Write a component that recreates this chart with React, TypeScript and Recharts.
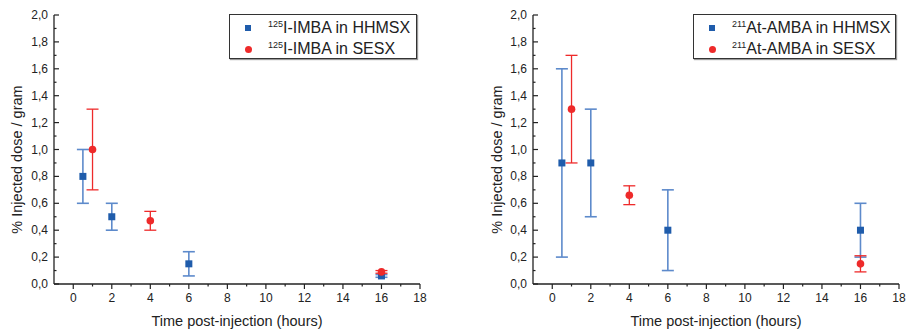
import {
  ScatterChart,
  Scatter,
  XAxis,
  YAxis,
  ErrorBar,
  Legend,
} from "recharts";

// values
const xTicks = [0, 1, 2, 3, 4, 5, 6, 7, 8, 9, 10, 11, 12, 13, 14, 15, 16, 17, 18];
const yTicks = [
  0, 0.1, 0.2, 0.3, 0.4, 0.5, 0.6, 0.7, 0.8, 0.9, 1.0, 1.1, 1.2, 1.3, 1.4, 1.5, 1.6,
  1.7, 1.8, 1.9, 2.0,
];

const iodineHhmsxTime = [0.5, 2, 6, 16];
const iodineHhmsxValue = [0.8, 0.5, 0.15, 0.06];
const iodineHhmsxError = [0.2, 0.1, 0.09, 0.01];

const iodineSesxTime = [1, 4, 16];
const iodineSesxValue = [1.0, 0.47, 0.09];
const iodineSesxError = [0.3, 0.07, 0.01];

const astatineHhmsxTime = [0.5, 2, 6, 16];
const astatineHhmsxValue = [0.9, 0.9, 0.4, 0.4];
const astatineHhmsxError = [0.7, 0.4, 0.3, 0.2];

const astatineSesxTime = [1, 4, 16];
const astatineSesxValue = [1.3, 0.66, 0.15];
const astatineSesxError = [0.4, 0.07, 0.06];

const iodineIsotope = "125";
const iodineNames = ["I-IMBA in HHMSX", "I-IMBA in SESX"];
const astatineIsotope = "211";
const astatineNames = ["At-AMBA in HHMSX", "At-AMBA in SESX"];

const BLUE = "#1f5cab";
const BLUE_ERR = "#5d8acb";
const RED = "#ee2a2a";
const FONT = "'Liberation Sans', Arial, sans-serif";
const AXIS = "#222";

const toRows = (t: number[], v: number[], e: number[]) =>
  t.map((time, i) => ({ time, value: v[i], err: e[i] }));

const SquareShape = (props: any) => (
  <rect x={props.cx - 3.5} y={props.cy - 3.5} width={7} height={7} fill={BLUE} />
);
const CircleShape = (props: any) => (
  <circle cx={props.cx} cy={props.cy} r={3.8} fill={RED} />
);

const XTick = (props: any) => {
  const { x, y, payload } = props;
  const major = payload.value % 2 === 0;
  return (
    <g>
      <line x1={x} y1={y} x2={x} y2={y + (major ? 5 : 2.5)} stroke={AXIS} strokeWidth={1.2} />
      {major && (
        <text
          x={x}
          y={y + 14}
          textAnchor="middle"
          dominantBaseline="central"
          fontSize={12}
          fontFamily={FONT}
          fill={AXIS}
        >
          {payload.value}
        </text>
      )}
    </g>
  );
};

const YTick = (props: any) => {
  const { x, y, payload, index } = props;
  const major = index % 2 === 0;
  return (
    <g>
      <line x1={x} y1={y} x2={x + (major ? 5 : 2.5)} y2={y} stroke={AXIS} strokeWidth={1.2} />
      {major && (
        <text
          x={x - 6}
          y={y}
          textAnchor="end"
          dominantBaseline="central"
          fontSize={12}
          fontFamily={FONT}
          fill={AXIS}
        >
          {payload.value.toFixed(1).replace(".", ",")}
        </text>
      )}
    </g>
  );
};

interface PanelProps {
  left: number;
  width: number;
  yAxisWidth: number;
  rightMargin: number;
  hhmsx: Array<{ time: number; value: number; err: number }>;
  sesx: Array<{ time: number; value: number; err: number }>;
  isotope: string;
  names: string[];
  legendLeft: number;
  legendWidth: number;
  yLabelX: number;
}

const Panel = ({
  left,
  width,
  yAxisWidth,
  rightMargin,
  hhmsx,
  sesx,
  isotope,
  names,
  legendLeft,
  legendWidth,
  yLabelX,
}: PanelProps) => (
  <div style={{ position: "absolute", left, top: 0 }}>
    <ScatterChart
      width={width}
      height={329}
      margin={{ top: 15, right: rightMargin, bottom: 0, left: 0 }}
    >
      <XAxis
        type="number"
        dataKey="time"
        domain={[-1, 18]}
        ticks={xTicks}
        interval={0}
        height={45}
        tickSize={0}
        tickMargin={0}
        tickLine={false}
        tick={<XTick />}
        axisLine={{ stroke: AXIS, strokeWidth: 1.3 }}
        label={{
          content: ({ viewBox }: any) => (
            <text
              x={viewBox.x + viewBox.width / 2}
              y={viewBox.y + 37}
              textAnchor="middle"
              dominantBaseline="central"
              fontSize={14.5}
              fontFamily={FONT}
              fill={AXIS}
            >
              Time post-injection (hours)
            </text>
          ),
        }}
      />
      <YAxis
        type="number"
        dataKey="value"
        domain={[0, 2]}
        ticks={yTicks}
        interval={0}
        width={yAxisWidth}
        tickSize={0}
        tickMargin={0}
        tickLine={false}
        tick={<YTick />}
        axisLine={{ stroke: AXIS, strokeWidth: 1.3 }}
        label={{
          content: ({ viewBox }: any) => {
            const cy = viewBox.y + viewBox.height / 2 + 10;
            return (
              <text
                x={yLabelX}
                y={cy}
                transform={`rotate(-90, ${yLabelX}, ${cy})`}
                textAnchor="middle"
                dominantBaseline="central"
                fontSize={14.5}
                fontFamily={FONT}
                fill={AXIS}
              >
                % Injected dose / gram
              </text>
            );
          },
        }}
      />
      <Legend
        verticalAlign="middle"
        align="center"
        wrapperStyle={{ top: 14, left: legendLeft, width: legendWidth, height: 45 }}
        content={() => (
          <div
            style={{
              position: "relative",
              width: legendWidth,
              height: 45,
              boxSizing: "border-box",
              border: "1.3px solid #333",
              boxShadow: "1px 1px 1px #999",
              background: "#fff",
              fontFamily: FONT,
              fontSize: 16,
              lineHeight: "16px",
              color: "#222",
            }}
          >
            {names.map((n, i) => (
              <div key={n}>
                {i === 0 ? (
                  <div
                    style={{
                      position: "absolute",
                      left: 15,
                      top: 10,
                      width: 6,
                      height: 6,
                      background: BLUE,
                    }}
                  />
                ) : (
                  <div
                    style={{
                      position: "absolute",
                      left: 14.5,
                      top: 30.5,
                      width: 7,
                      height: 7,
                      borderRadius: 4,
                      background: RED,
                    }}
                  />
                )}
                <div
                  style={{
                    position: "absolute",
                    left: 38,
                    top: i === 0 ? 5 : 26,
                    whiteSpace: "nowrap",
                  }}
                >
                  <span style={{ fontSize: 9, position: "relative", top: -6 }}>{isotope}</span>
                  {n}
                </div>
              </div>
            ))}
          </div>
        )}
      />
      <Scatter name={names[0]} data={hhmsx} fill={BLUE} shape={SquareShape} isAnimationActive={false}>
        <ErrorBar
          dataKey="err"
          direction="y"
          width={6}
          stroke={BLUE_ERR}
          strokeWidth={1.6}
          isAnimationActive={false}
        />
      </Scatter>
      <Scatter name={names[1]} data={sesx} fill={RED} shape={CircleShape} isAnimationActive={false}>
        <ErrorBar
          dataKey="err"
          direction="y"
          width={6}
          stroke={RED}
          strokeWidth={1.3}
          isAnimationActive={false}
        />
      </Scatter>
    </ScatterChart>
  </div>
);

export default function App() {
  return (
    <div
      style={{
        position: "absolute",
        left: 0,
        top: 0,
        width: 907,
        height: 329,
        background: "#fff",
        overflow: "hidden",
      }}
    >
      <Panel
        left={0}
        width={450}
        yAxisWidth={54}
        rightMargin={30}
        hhmsx={toRows(iodineHhmsxTime, iodineHhmsxValue, iodineHhmsxError)}
        sesx={toRows(iodineSesxTime, iodineSesxValue, iodineSesxError)}
        isotope={iodineIsotope}
        names={iodineNames}
        legendLeft={229}
        legendWidth={188}
        yLabelX={17}
      />
      <Panel
        left={460}
        width={447}
        yAxisWidth={73}
        rightMargin={8}
        hhmsx={toRows(astatineHhmsxTime, astatineHhmsxValue, astatineHhmsxError)}
        sesx={toRows(astatineSesxTime, astatineSesxValue, astatineSesxError)}
        isotope={astatineIsotope}
        names={astatineNames}
        legendLeft={233}
        legendWidth={203}
        yLabelX={37}
      />
    </div>
  );
}
